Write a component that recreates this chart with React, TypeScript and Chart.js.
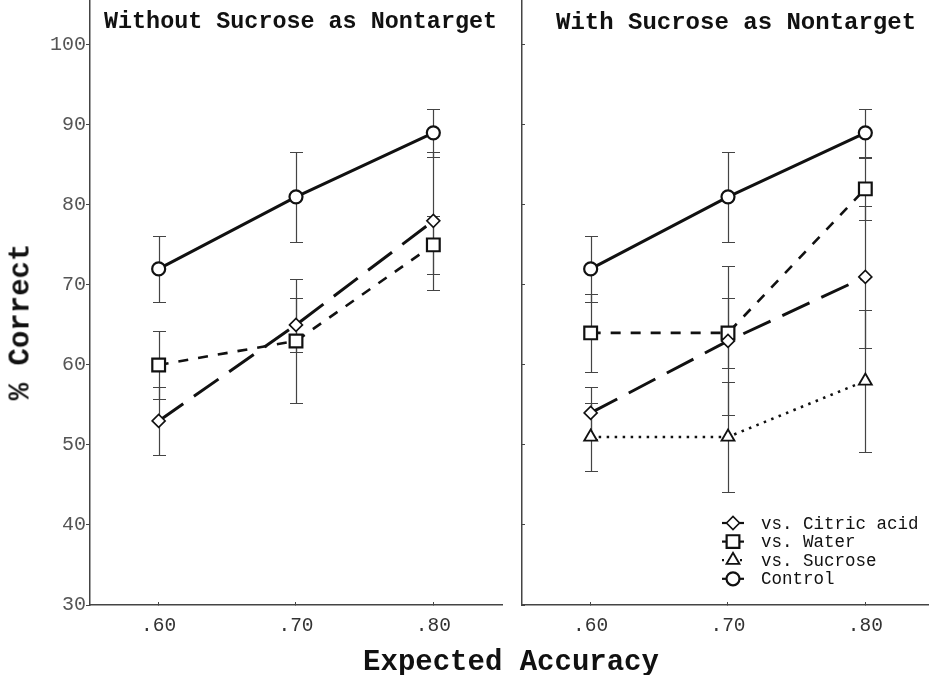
import React, { useEffect, useRef } from "react";
import { Chart, registerables } from "chart.js";
import { drawPoint } from "chart.js/helpers";

Chart.register(...registerables);

// ---------- data ----------
const xValues = [0.6, 0.7, 0.8];
const xTickLabels = [".60", ".70", ".80"];
const yTicks = [30, 40, 50, 60, 70, 80, 90, 100];

const seriesNames = ["vs. Citric acid", "vs. Water", "vs. Sucrose", "Control"];

// Without sucrose as nontarget (left panel)
const leftCitric = [53, 65, 78];
const leftCitricErr = [4.3, 3.4, 8.6];
const leftWater = [60, 63, 75];
const leftWaterErr = [4.2, 7.7, 3.6];
const leftControl = [72, 81, 89];
const leftControlErr = [4.1, 5.6, 3.0];

// With sucrose as nontarget (right panel)
const rightCitric = [54, 63, 71];
const rightCitricErr = [3.3, 9.3, 8.9];
const rightWater = [64, 64, 82];
const rightWaterErr = [4.9, 4.4, 3.9];
const rightSucrose = [51, 51, 58];
const rightSucroseErr = [4.2, 6.9, 8.9];
const rightControl = [72, 81, 89];
const rightControlErr = [4.1, 5.6, 3.0];

// ---------- styles ----------
const FONT = '"Liberation Mono", "Courier New", monospace';
const INK = "#111";

const STYLES: Record<string, any> = {
  citric: { borderDash: [30, 13], borderWidth: 3, pointStyle: "rectRot", pointRadius: 6.5, pointBorderWidth: 1.6 },
  water: { borderDash: [10, 10], borderWidth: 2.6, pointStyle: "rect", pointRadius: 9, pointBorderWidth: 2.2 },
  sucrose: { borderDash: [2.5, 5.5], borderWidth: 2.6, pointStyle: "triangle", pointRadius: 7.5, pointBorderWidth: 1.8 },
  control: { borderDash: [], borderWidth: 3, pointStyle: "circle", pointRadius: 6.5, pointBorderWidth: 2.2 },
};

function makeDataset(label: string, key: string, values: number[], errs: number[]) {
  const s = STYLES[key];
  return {
    label,
    data: xValues.map((x, i) => ({ x, y: values[i] })),
    errors: errs,
    styleKey: key,
    borderColor: INK,
    backgroundColor: "#fff",
    pointBackgroundColor: "#fff",
    pointBorderColor: INK,
    borderDash: s.borderDash,
    borderWidth: s.borderWidth,
    pointStyle: s.pointStyle,
    pointRadius: s.pointRadius,
    pointHoverRadius: s.pointRadius,
    pointBorderWidth: s.pointBorderWidth,
    pointHoverBorderWidth: s.pointBorderWidth,
    tension: 0,
    fill: false,
    clip: false,
  };
}

const errorBarPlugin = {
  id: "errorBars",
  beforeDatasetsDraw(chart: any) {
    const { ctx } = chart;
    const xs = chart.scales.x;
    const ys = chart.scales.y;
    ctx.save();
    ctx.strokeStyle = "#444";
    ctx.lineWidth = 1.2;
    ctx.setLineDash([]);
    chart.data.datasets.forEach((ds: any) => {
      ds.data.forEach((p: any, i: number) => {
        const e = ds.errors[i];
        const px = Math.round(xs.getPixelForValue(p.x)) + 0.5;
        const top = Math.round(ys.getPixelForValue(p.y + e)) + 0.5;
        const bot = Math.round(ys.getPixelForValue(p.y - e)) + 0.5;
        ctx.beginPath();
        ctx.moveTo(px, top);
        ctx.lineTo(px, bot);
        ctx.moveTo(px - 6.5, top);
        ctx.lineTo(px + 6.5, top);
        ctx.moveTo(px - 6.5, bot);
        ctx.lineTo(px + 6.5, bot);
        ctx.stroke();
      });
    });
    ctx.restore();
  },
};

const legendPlugin = {
  id: "innerLegend",
  afterDraw(chart: any) {
    const { ctx, chartArea } = chart;
    const markerX = chartArea.right - 201;
    const textX = chartArea.right - 173;
    const firstRowY = chartArea.bottom - 82;
    const rowGap = 18.6;
    ctx.save();
    chart.data.datasets.forEach((ds: any, i: number) => {
      const y = firstRowY + i * rowGap;
      const s = STYLES[ds.styleKey];
      ctx.strokeStyle = INK;
      ctx.lineWidth = 2.2;
      ctx.setLineDash(ds.styleKey === "sucrose" ? [2, 4] : []);
      ctx.beginPath();
      ctx.moveTo(markerX - 11, y);
      ctx.lineTo(markerX + 11, y);
      ctx.stroke();
      ctx.setLineDash([]);
      ctx.fillStyle = "#fff";
      ctx.strokeStyle = INK;
      ctx.lineWidth = s.pointBorderWidth;
      drawPoint(ctx, { pointStyle: s.pointStyle, rotation: 0, radius: s.pointRadius, borderWidth: s.pointBorderWidth } as any, markerX, y);
      ctx.fillStyle = INK;
      ctx.font = `17.5px ${FONT}`;
      ctx.textAlign = "left";
      ctx.textBaseline = "middle";
      ctx.fillText(ds.label, textX, y + 1);
    });
    ctx.restore();
  },
};

function buildOptions(showYLabels: boolean, yAxisWidth: number, rightPad: number) {
  return {
    responsive: false,
    maintainAspectRatio: false,
    animation: false as const,
    layout: { autoPadding: false, padding: { left: 0, right: rightPad, top: 0, bottom: 0 } },
    plugins: {
      legend: { display: false },
      tooltip: { enabled: false },
      title: { display: false },
    },
    scales: {
      x: {
        type: "linear" as const,
        position: "bottom" as const,
        min: 0.55,
        max: 0.85,
        afterBuildTicks: (s: any) => {
          s.ticks = xValues.map((v) => ({ value: v }));
        },
        afterFit: (s: any) => {
          s.height = 70;
          s.paddingLeft = 0;
          s.paddingRight = 0;
        },
        grid: { display: true, drawOnChartArea: false, drawTicks: true, tickLength: -3, color: "#444", lineWidth: 1 },
        border: { display: true, color: "#444", width: 1.5 },
        ticks: {
          autoSkip: false,
          maxRotation: 0,
          padding: 12,
          color: "#333",
          font: { family: FONT, size: 19.5 },
          callback: (_v: any, i: number) => xTickLabels[i],
        },
      },
      y: {
        type: "linear" as const,
        position: "left" as const,
        min: 30,
        max: 105.6,
        afterBuildTicks: (s: any) => {
          s.ticks = yTicks.map((v) => ({ value: v }));
        },
        afterFit: (s: any) => {
          s.width = yAxisWidth;
          s.paddingTop = 0;
          s.paddingBottom = 0;
        },
        grid: { display: true, drawOnChartArea: false, drawTicks: true, tickLength: showYLabels ? 4 : -3, color: "#444", lineWidth: 1 },
        border: { display: true, color: "#444", width: 1.5 },
        ticks: {
          display: showYLabels,
          padding: 0,
          color: "#555",
          font: { family: FONT, size: 20 },
          callback: (v: any) => String(v),
        },
      },
    },
  };
}

export default function App() {
  const leftRef = useRef<HTMLCanvasElement>(null);
  const rightRef = useRef<HTMLCanvasElement>(null);

  useEffect(() => {
    const left = new Chart(leftRef.current as HTMLCanvasElement, {
      type: "line",
      data: {
        datasets: [
          makeDataset(seriesNames[0], "citric", leftCitric, leftCitricErr),
          makeDataset(seriesNames[1], "water", leftWater, leftWaterErr),
          makeDataset(seriesNames[3], "control", leftControl, leftControlErr),
        ] as any,
      },
      options: buildOptions(true, 90, 4) as any,
      plugins: [errorBarPlugin],
    });
    const right = new Chart(rightRef.current as HTMLCanvasElement, {
      type: "line",
      data: {
        datasets: [
          makeDataset(seriesNames[0], "citric", rightCitric, rightCitricErr),
          makeDataset(seriesNames[1], "water", rightWater, rightWaterErr),
          makeDataset(seriesNames[2], "sucrose", rightSucrose, rightSucroseErr),
          makeDataset(seriesNames[3], "control", rightControl, rightControlErr),
        ] as any,
      },
      options: buildOptions(false, 16, 2) as any,
      plugins: [errorBarPlugin, legendPlugin],
    });
    return () => {
      left.destroy();
      right.destroy();
    };
  }, []);

  const titleStyle: React.CSSProperties = {
    position: "absolute",
    top: 11,
    fontFamily: FONT,
    fontWeight: "bold",
    lineHeight: 1,
    color: INK,
    whiteSpace: "nowrap",
  };

  return (
    <div
      style={{
        position: "fixed",
        left: 0,
        top: 0,
        width: 929,
        height: 675,
        overflow: "hidden",
        background: "#fff",
      }}
    >
      <canvas ref={leftRef} width={506} height={675} style={{ position: "absolute", left: 0, top: 0, width: 506, height: 675 }} />
      <canvas ref={rightRef} width={430} height={675} style={{ position: "absolute", left: 506, top: 0, width: 430, height: 675 }} />
      <div style={{ ...titleStyle, left: 104, fontSize: 23.4 }}>Without Sucrose as Nontarget</div>
      <div style={{ ...titleStyle, left: 556, fontSize: 24 }}>With Sucrose as Nontarget</div>
      <div
        style={{
          position: "absolute",
          left: 21,
          top: 322,
          transform: "translate(-50%, -50%) rotate(-90deg)",
          fontFamily: FONT,
          fontWeight: "bold",
          fontSize: 29,
          lineHeight: 1,
          color: INK,
          whiteSpace: "nowrap",
        }}
      >
        % Correct
      </div>
      <div
        style={{
          position: "absolute",
          left: 511,
          top: 648,
          transform: "translateX(-50%)",
          fontFamily: FONT,
          fontWeight: "bold",
          fontSize: 29,
          lineHeight: 1,
          color: INK,
          whiteSpace: "nowrap",
        }}
      >
        Expected Accuracy
      </div>
    </div>
  );
}
